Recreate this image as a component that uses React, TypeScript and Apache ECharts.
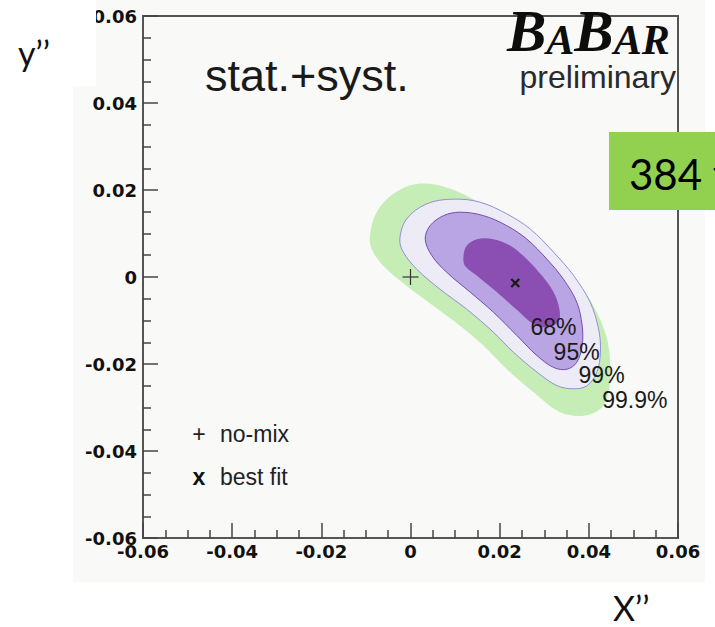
import React, { useEffect, useRef } from "react";
import * as echarts from "echarts";

// Axis ticks (x'' and y'')
const axisMin = -0.06;
const axisMax = 0.06;
const axisStep = 0.02;

// Confidence-level contours, [x'', y''] pairs
const contour999: [number, number][] = [
  [-0.0091, 0.0095], [-0.0076, 0.0149], [-0.0039, 0.0191], [0.0014, 0.0214], [0.0081, 0.0206],
  [0.0149, 0.0175], [0.0209, 0.0141], [0.0276, 0.0087], [0.0336, 0.0026], [0.0381, -0.002],
  [0.0418, -0.0081], [0.0441, -0.0143], [0.0448, -0.0204], [0.0444, -0.0265], [0.0426, -0.0303],
  [0.0388, -0.0319], [0.0336, -0.0311], [0.0276, -0.0265], [0.0216, -0.0212], [0.0164, -0.0158],
  [0.0111, -0.0112], [0.0051, -0.0066], [-0.0009, -0.002], [-0.0061, 0.0026], [-0.0087, 0.0064],
];
const contour99: [number, number][] = [
  [-0.0024, 0.0087], [-0.0009, 0.0133], [0.0036, 0.0168], [0.0096, 0.0179], [0.0156, 0.0172],
  [0.0216, 0.0145], [0.0269, 0.011], [0.0321, 0.0057], [0.0366, 0.0003], [0.0403, -0.0058],
  [0.0422, -0.012], [0.0426, -0.0173], [0.0418, -0.0219], [0.0396, -0.025], [0.0366, -0.0257],
  [0.0329, -0.025], [0.0284, -0.0219], [0.0231, -0.0173], [0.0186, -0.0127], [0.0126, -0.0074],
  [0.0066, -0.0028], [0.0014, 0.0018], [-0.0016, 0.0057],
];
const contour95: [number, number][] = [
  [0.0033, 0.0087], [0.0044, 0.0118], [0.0074, 0.0141], [0.0111, 0.0149], [0.0164, 0.0141],
  [0.0216, 0.0118], [0.0261, 0.0087], [0.0306, 0.0041], [0.0343, -0.0005], [0.0373, -0.0058],
  [0.0385, -0.0112], [0.0385, -0.0158], [0.0373, -0.0196], [0.0351, -0.0212], [0.0321, -0.0208],
  [0.0284, -0.0181], [0.0239, -0.0135], [0.0186, -0.0081], [0.0134, -0.0035], [0.0081, 0.0011],
  [0.0048, 0.0049],
];
const contour68: [number, number][] = [
  [0.0119, 0.0049], [0.0126, 0.0072], [0.0149, 0.0087], [0.0186, 0.0087], [0.0224, 0.0072],
  [0.0261, 0.0041], [0.0295, 0.0003], [0.0321, -0.0035], [0.0334, -0.0074], [0.0332, -0.0102],
  [0.0308, -0.0116], [0.0276, -0.0108], [0.0239, -0.0076], [0.0194, -0.0035], [0.0149, 0.0003],
  [0.0122, 0.0026],
];

// Contour labels
const levelNames = ["68%", "95%", "99%", "99.9%"];
const levelLabelX = [0.0269, 0.0321, 0.0377, 0.043];
const levelLabelY = [-0.0116, -0.0172, -0.0225, -0.0283];

// Points
const noMix: [number, number] = [0, 0];
const bestFit: [number, number] = [0.0235, -0.0014];

const fmt = (v: number) => (Math.abs(v) < 1e-9 ? "0" : v.toFixed(2));

const polygonSeries = (name: string, pts: [number, number][], fill: string, stroke?: string) => ({
  type: "custom",
  name,
  data: pts,
  encode: { x: 0, y: 1 },
  silent: true,
  renderItem: (params: any, api: any) => {
    if (params.dataIndex !== 0) return null;
    return {
      type: "polygon",
      shape: { points: pts.map((p) => api.coord(p)), smooth: 0.35 },
      style: { fill, stroke: stroke || "none", lineWidth: 1 },
    };
  },
});

const axisCommon = {
  type: "value",
  min: axisMin,
  max: axisMax,
  interval: axisStep,
  axisLine: { show: true, onZero: false, lineStyle: { color: "#555", width: 2 } },
  axisTick: { show: true, inside: true, length: 15, lineStyle: { color: "#444", width: 1.5 } },
  minorTick: { show: true, splitNumber: 4, length: 8, lineStyle: { color: "#444", width: 1.5 } },
  splitLine: { show: false },
  minorSplitLine: { show: false },
};

const labelFont = { fontFamily: "DejaVu Sans", fontWeight: "bold", fontSize: 18, color: "#111", formatter: fmt };

const txt = (text: string, x: number, y: number, font: string, fill = "#111", align = "left", z = 20) => ({
  type: "text",
  x,
  y,
  z,
  style: { text, font, fill, align, verticalAlign: "middle", textAlign: align, textVerticalAlign: "middle" },
});

const serifBI = '"Liberation Serif", "Times New Roman", serif';

export default function App() {
  const ref = useRef<HTMLDivElement>(null);
  useEffect(() => {
    if (!ref.current) return;
    const chart = echarts.init(ref.current, undefined, { renderer: "svg" });
    chart.setOption({
      animation: false,
      backgroundColor: "#ffffff",
      grid: { left: 143, top: 16, width: 535, height: 522, show: true, borderColor: "#555", borderWidth: 2, backgroundColor: "transparent" },
      xAxis: { ...axisCommon, axisLabel: { ...labelFont, margin: 4 } },
      yAxis: { ...axisCommon, axisLabel: { ...labelFont, margin: 6 } },
      series: [
        polygonSeries("99.9%", contour999, "#c6edb6"),
        polygonSeries("99%", contour99, "#ecebf6", "#8f90d2"),
        polygonSeries("95%", contour95, "#b9a5e4", "#6f4fab"),
        polygonSeries("68%", contour68, "#8b4fb3"),
        {
          type: "custom",
          name: "no-mix",
          data: [noMix],
          encode: { x: 0, y: 1 },
          silent: true,
          renderItem: (_p: any, api: any) => {
            const c = api.coord(noMix);
            return {
              type: "group",
              children: [
                { type: "line", shape: { x1: c[0] - 8, y1: c[1], x2: c[0] + 8, y2: c[1] }, style: { stroke: "#333", lineWidth: 1.2 } },
                { type: "line", shape: { x1: c[0], y1: c[1] - 8, x2: c[0], y2: c[1] + 8 }, style: { stroke: "#333", lineWidth: 1.2 } },
              ],
            };
          },
        },
        {
          type: "custom",
          name: "best fit",
          data: [bestFit],
          encode: { x: 0, y: 1 },
          silent: true,
          renderItem: (_p: any, api: any) => {
            const c = api.coord(bestFit);
            return {
              type: "group",
              children: [
                { type: "line", shape: { x1: c[0] - 4, y1: c[1] - 4, x2: c[0] + 4, y2: c[1] + 4 }, style: { stroke: "#1a1a1a", lineWidth: 2.2 } },
                { type: "line", shape: { x1: c[0] - 4, y1: c[1] + 4, x2: c[0] + 4, y2: c[1] - 4 }, style: { stroke: "#1a1a1a", lineWidth: 2.2 } },
              ],
            };
          },
        },
        {
          type: "custom",
          name: "levels",
          data: levelNames.map((_, i) => [levelLabelX[i], levelLabelY[i]]),
          encode: { x: 0, y: 1 },
          silent: true,
          z: 5,
          renderItem: (params: any, api: any) => {
            const i = params.dataIndex;
            const c = api.coord([levelLabelX[i], levelLabelY[i]]);
            return {
              type: "text",
              x: c[0],
              y: c[1],
              style: {
                text: levelNames[i],
                font: '23px "Liberation Sans", Arial, sans-serif',
                fill: "#1a1a1a",
                align: "left",
                verticalAlign: "middle",
              },
            };
          },
        },
      ],
      graphic: [
        { type: "rect", z: -10, shape: { x: 73, y: 0, width: 632, height: 582 }, style: { fill: "#f9f9f7" } },
        { type: "rect", z: 50, shape: { x: 0, y: 0, width: 96, height: 86 }, style: { fill: "#ffffff" } },
        txt("y’’", 18, 52, '34px Lato, "Open Sans", sans-serif', "#111", "left", 60),
        txt("X’’", 613, 607, '34px Lato, "Open Sans", sans-serif', "#111"),
        txt("stat.+syst.", 205, 75, '45px "Liberation Sans", Arial, sans-serif', "#1a1a1a"),
        {
          type: "text",
          x: 507,
          y: 13.6,
          z: 20,
          style: {
            text: "{b|B}{s|A}{b|B}{s|AR}",
            align: "left",
            verticalAlign: "top",
            textAlign: "left",
            textVerticalAlign: "top",
            fill: "#0d0d0d",
            rich: {
              b: { font: `italic bold 59px ${serifBI}`, fill: "#0d0d0d", lineHeight: 47, verticalAlign: "bottom" },
              s: { font: `italic bold 42px ${serifBI}`, fill: "#0d0d0d", lineHeight: 35.6, verticalAlign: "bottom" },
            },
          },
        },
        txt("preliminary", 676, 77, '32px "Liberation Sans", Arial, sans-serif', "#2a2a2a", "right"),
        txt("+", 199, 434, '23px "Liberation Sans", Arial, sans-serif', "#222", "center"),
        txt("no-mix", 220, 434, '23px "Liberation Sans", Arial, sans-serif', "#222"),
        txt("x", 199, 477, 'bold 23px "Liberation Sans", Arial, sans-serif', "#111", "center"),
        txt("best fit", 220, 477, '23px "Liberation Sans", Arial, sans-serif', "#222"),
        { type: "rect", z: 70, shape: { x: 609, y: 132, width: 120, height: 78 }, style: { fill: "#92d050" } },
        txt("384 fb⁻¹", 629, 174, '42px Lato, "Open Sans", sans-serif', "#000", "left", 80),
      ],
    });
    return () => chart.dispose();
  }, []);
  return <div ref={ref} style={{ position: "fixed", left: 0, top: 0, width: 715, height: 627 }} />;
}
